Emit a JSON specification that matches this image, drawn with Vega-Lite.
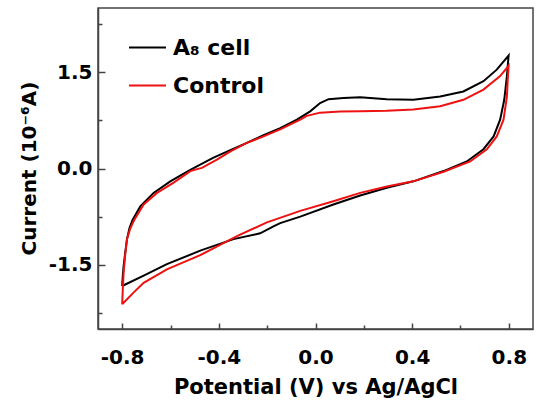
{
 "$schema": "https://vega.github.io/schema/vega-lite/v6.json",
 "width": 435,
 "height": 321,
 "autosize": {"type": "none"},
 "padding": {"left": 98, "top": 8, "right": 8, "bottom": 77},
 "background": "white",
 "config": {"view": {"stroke": "#444444", "strokeWidth": 1.5}, "font": "DejaVu Sans"},
 "datasets": {
  "cv": [
   {"s":"A₈ cell","i":1,"v":-0.8,"c":-1.83},
   {"s":"A₈ cell","i":2,"v":-0.797,"c":-1.65},
   {"s":"A₈ cell","i":3,"v":-0.794,"c":-1.52},
   {"s":"A₈ cell","i":4,"v":-0.787,"c":-1.3},
   {"s":"A₈ cell","i":5,"v":-0.78,"c":-1.1},
   {"s":"A₈ cell","i":6,"v":-0.77,"c":-0.93},
   {"s":"A₈ cell","i":7,"v":-0.757,"c":-0.8},
   {"s":"A₈ cell","i":8,"v":-0.725,"c":-0.59},
   {"s":"A₈ cell","i":9,"v":-0.67,"c":-0.38},
   {"s":"A₈ cell","i":10,"v":-0.601,"c":-0.2},
   {"s":"A₈ cell","i":11,"v":-0.518,"c":-0.02},
   {"s":"A₈ cell","i":12,"v":-0.477,"c":0.06},
   {"s":"A₈ cell","i":13,"v":-0.422,"c":0.17},
   {"s":"A₈ cell","i":14,"v":-0.35,"c":0.29},
   {"s":"A₈ cell","i":15,"v":-0.284,"c":0.4},
   {"s":"A₈ cell","i":16,"v":-0.215,"c":0.52},
   {"s":"A₈ cell","i":17,"v":-0.146,"c":0.63},
   {"s":"A₈ cell","i":18,"v":-0.077,"c":0.76},
   {"s":"A₈ cell","i":19,"v":-0.022,"c":0.89},
   {"s":"A₈ cell","i":20,"v":0.019,"c":1.02},
   {"s":"A₈ cell","i":21,"v":0.054,"c":1.08},
   {"s":"A₈ cell","i":22,"v":0.116,"c":1.1},
   {"s":"A₈ cell","i":23,"v":0.185,"c":1.11},
   {"s":"A₈ cell","i":24,"v":0.295,"c":1.08},
   {"s":"A₈ cell","i":25,"v":0.405,"c":1.07},
   {"s":"A₈ cell","i":26,"v":0.516,"c":1.12},
   {"s":"A₈ cell","i":27,"v":0.612,"c":1.2},
   {"s":"A₈ cell","i":28,"v":0.695,"c":1.36},
   {"s":"A₈ cell","i":29,"v":0.75,"c":1.54},
   {"s":"A₈ cell","i":30,"v":0.799,"c":1.76},
   {"s":"A₈ cell","i":31,"v":0.792,"c":1.44},
   {"s":"A₈ cell","i":32,"v":0.781,"c":1.07},
   {"s":"A₈ cell","i":33,"v":0.764,"c":0.76},
   {"s":"A₈ cell","i":34,"v":0.737,"c":0.5},
   {"s":"A₈ cell","i":35,"v":0.695,"c":0.3},
   {"s":"A₈ cell","i":36,"v":0.626,"c":0.11},
   {"s":"A₈ cell","i":37,"v":0.53,"c":-0.04},
   {"s":"A₈ cell","i":38,"v":0.405,"c":-0.2},
   {"s":"A₈ cell","i":39,"v":0.295,"c":-0.3},
   {"s":"A₈ cell","i":40,"v":0.185,"c":-0.42},
   {"s":"A₈ cell","i":41,"v":0.074,"c":-0.56},
   {"s":"A₈ cell","i":42,"v":-0.063,"c":-0.75},
   {"s":"A₈ cell","i":43,"v":-0.146,"c":-0.85},
   {"s":"A₈ cell","i":44,"v":-0.174,"c":-0.9},
   {"s":"A₈ cell","i":45,"v":-0.229,"c":-1.01},
   {"s":"A₈ cell","i":46,"v":-0.339,"c":-1.1},
   {"s":"A₈ cell","i":47,"v":-0.477,"c":-1.28},
   {"s":"A₈ cell","i":48,"v":-0.615,"c":-1.49},
   {"s":"A₈ cell","i":49,"v":-0.711,"c":-1.67},
   {"s":"A₈ cell","i":50,"v":-0.8,"c":-1.83},
   {"s":"Control","i":1,"v":-0.8,"c":-2.115},
   {"s":"Control","i":2,"v":-0.797,"c":-1.85},
   {"s":"Control","i":3,"v":-0.794,"c":-1.62},
   {"s":"Control","i":4,"v":-0.787,"c":-1.33},
   {"s":"Control","i":5,"v":-0.78,"c":-1.1},
   {"s":"Control","i":6,"v":-0.766,"c":-0.93},
   {"s":"Control","i":7,"v":-0.75,"c":-0.8},
   {"s":"Control","i":8,"v":-0.711,"c":-0.56},
   {"s":"Control","i":9,"v":-0.656,"c":-0.38},
   {"s":"Control","i":10,"v":-0.587,"c":-0.22},
   {"s":"Control","i":11,"v":-0.518,"c":-0.04},
   {"s":"Control","i":12,"v":-0.49,"c":-0.01},
   {"s":"Control","i":13,"v":-0.47,"c":0.01},
   {"s":"Control","i":14,"v":-0.408,"c":0.14},
   {"s":"Control","i":15,"v":-0.35,"c":0.27},
   {"s":"Control","i":16,"v":-0.284,"c":0.4},
   {"s":"Control","i":17,"v":-0.215,"c":0.5},
   {"s":"Control","i":18,"v":-0.146,"c":0.61},
   {"s":"Control","i":19,"v":-0.063,"c":0.76},
   {"s":"Control","i":20,"v":-0.036,"c":0.82},
   {"s":"Control","i":21,"v":0.019,"c":0.87},
   {"s":"Control","i":22,"v":0.102,"c":0.886},
   {"s":"Control","i":23,"v":0.185,"c":0.89},
   {"s":"Control","i":24,"v":0.295,"c":0.9},
   {"s":"Control","i":25,"v":0.405,"c":0.92},
   {"s":"Control","i":26,"v":0.516,"c":0.97},
   {"s":"Control","i":27,"v":0.612,"c":1.07},
   {"s":"Control","i":28,"v":0.695,"c":1.23},
   {"s":"Control","i":29,"v":0.764,"c":1.44},
   {"s":"Control","i":30,"v":0.799,"c":1.6},
   {"s":"Control","i":31,"v":0.795,"c":1.35},
   {"s":"Control","i":32,"v":0.792,"c":1.12},
   {"s":"Control","i":33,"v":0.778,"c":0.76},
   {"s":"Control","i":34,"v":0.75,"c":0.5},
   {"s":"Control","i":35,"v":0.709,"c":0.3},
   {"s":"Control","i":36,"v":0.64,"c":0.11},
   {"s":"Control","i":37,"v":0.53,"c":-0.05},
   {"s":"Control","i":38,"v":0.405,"c":-0.2},
   {"s":"Control","i":39,"v":0.295,"c":-0.28},
   {"s":"Control","i":40,"v":0.185,"c":-0.38},
   {"s":"Control","i":41,"v":0.074,"c":-0.51},
   {"s":"Control","i":42,"v":-0.063,"c":-0.66},
   {"s":"Control","i":43,"v":-0.201,"c":-0.84},
   {"s":"Control","i":44,"v":-0.312,"c":-1.03},
   {"s":"Control","i":45,"v":-0.339,"c":-1.08},
   {"s":"Control","i":46,"v":-0.477,"c":-1.35},
   {"s":"Control","i":47,"v":-0.615,"c":-1.57},
   {"s":"Control","i":48,"v":-0.711,"c":-1.78},
   {"s":"Control","i":49,"v":-0.752,"c":-1.93},
   {"s":"Control","i":50,"v":-0.8,"c":-2.115}
  ]
 },
 "data": {"name": "cv"},
 "layer": [
  {
   "mark": {"type": "line", "strokeWidth": 2},
   "encoding": {
    "x": {"field": "v", "type": "quantitative",
     "scale": {"domain": [-0.9, 0.9], "nice": false, "zero": false},
     "axis": {"values": [-0.8, -0.4, 0, 0.4, 0.8],
      "labelExpr": "datum.value < 0 ? '-' + format(-datum.value, '.1f') : format(datum.value, '.1f')",
      "labelFont": "DejaVu Sans", "labelFontSize": 20, "labelFontWeight": "bold", "labelColor": "black",
      "labelPadding": 24, "labelFlush": false, "labelOverlap": false,
      "tickSize": -6, "tickColor": "#444444", "tickWidth": 1.5,
      "domainColor": "#444444", "domainWidth": 1.5, "grid": false,
      "title": "Potential (V) vs Ag/AgCl", "titleFont": "DejaVu Sans", "titleFontSize": 21,
      "titleFontWeight": "bold", "titleColor": "black", "titleY": 64, "titleBaseline": "alphabetic"}},
    "y": {"field": "c", "type": "quantitative",
     "scale": {"domain": [-2.5, 2.5], "nice": false, "zero": false},
     "axis": {"values": [-1.5, 0, 1.5],
      "labelExpr": "datum.value < 0 ? '-' + format(-datum.value, '.1f') : format(datum.value, '.1f')",
      "labelFont": "DejaVu Sans", "labelFontSize": 20, "labelFontWeight": "bold", "labelColor": "black",
      "labelPadding": 13, "labelFlush": false, "labelOverlap": false,
      "tickSize": -7, "tickColor": "#444444", "tickWidth": 1.5,
      "domainColor": "#444444", "domainWidth": 1.5, "grid": false,
      "title": "Current (10⁻⁶A)", "titleFont": "DejaVu Sans", "titleFontSize": 20,
      "titleFontWeight": "bold", "titleColor": "black", "titleX": -63, "titleY": 160,
      "titleAngle": -90, "titleAlign": "center", "titleBaseline": "alphabetic"}},
    "color": {"field": "s", "type": "nominal",
     "scale": {"domain": ["A₈ cell", "Control"], "range": ["#000000", "#ee1111"]},
     "legend": {"orient": "none", "legendX": 30, "legendY": 20, "title": null,
      "symbolType": "stroke", "symbolSize": 1369, "symbolStrokeWidth": 2,
      "labelFont": "DejaVu Sans", "labelFontSize": 22, "labelFontWeight": "bold", "labelColor": "black",
      "labelOffset": 6, "rowPadding": 7, "labelLimit": 300, "padding": 0}},
    "order": {"field": "i", "type": "quantitative"}
   }
  },
  {
   "mark": {"type": "line", "strokeOpacity": 0},
   "encoding": {
    "x": {"field": "v", "type": "quantitative",
     "scale": {"domain": [-0.9, 0.9], "nice": false, "zero": false},
     "axis": {"orient": "bottom", "values": [-0.6, -0.2, 0.2, 0.6], "labels": false, "title": null,
      "tickSize": -4, "tickColor": "#444444", "tickWidth": 1.5, "domain": false, "grid": false}},
    "y": {"field": "c", "type": "quantitative",
     "scale": {"domain": [-2.5, 2.5], "nice": false, "zero": false},
     "axis": {"orient": "left", "values": [-2.25, -0.75, 0.75, 2.25], "labels": false, "title": null,
      "tickSize": -4, "tickColor": "#444444", "tickWidth": 1.5, "domain": false, "grid": false}},
    "detail": {"field": "s", "type": "nominal"},
    "order": {"field": "i", "type": "quantitative"}
   }
  }
 ],
 "resolve": {"axis": {"x": "independent", "y": "independent"}}
}
